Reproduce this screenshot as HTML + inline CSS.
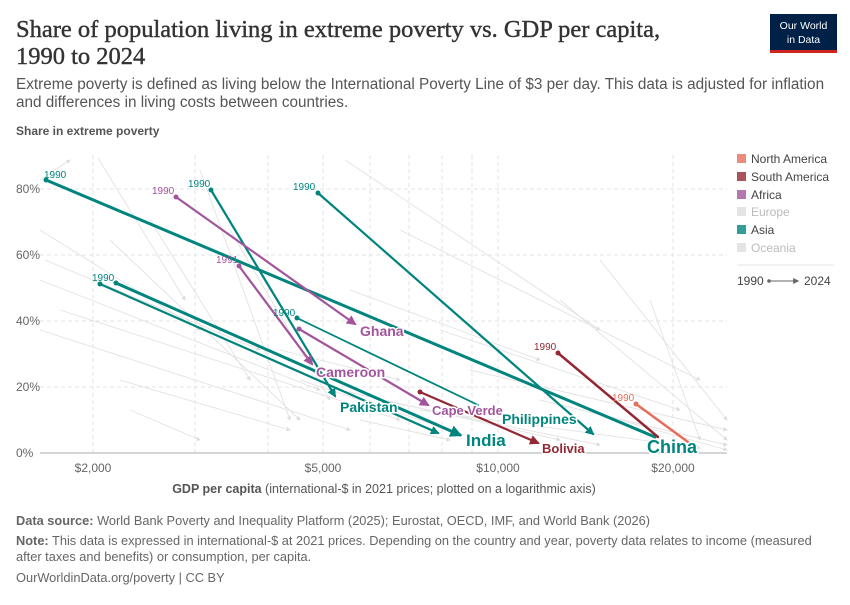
<!DOCTYPE html>
<html><head><meta charset="utf-8"><style>
body{margin:0;background:#fff;width:850px;height:600px;overflow:hidden;font-family:"Liberation Sans",sans-serif}
</style></head><body>
<svg width="850" height="600" xmlns="http://www.w3.org/2000/svg" font-family="Liberation Sans, sans-serif">
<defs>
<marker id="at" viewBox="0 0 10 10" refX="8" refY="5" markerWidth="4" markerHeight="4" orient="auto"><path d="M0,0L10,5L0,10z" fill="#00847e"/></marker>
<marker id="ap" viewBox="0 0 10 10" refX="8" refY="5" markerWidth="4.5" markerHeight="4.5" orient="auto"><path d="M0,0L10,5L0,10z" fill="#a2559c"/></marker>
<marker id="ar" viewBox="0 0 10 10" refX="8" refY="5" markerWidth="4.5" markerHeight="4.5" orient="auto"><path d="M0,0L10,5L0,10z" fill="#932834"/></marker>
<marker id="ag" viewBox="0 0 10 10" refX="8" refY="5" markerWidth="5" markerHeight="5" orient="auto"><path d="M0,0L10,5L0,10z" fill="#ddd"/></marker>
<marker id="ak" viewBox="0 0 10 10" refX="8" refY="5" markerWidth="6" markerHeight="6" orient="auto"><path d="M0,0L10,5L0,10z" fill="#666"/></marker>
</defs>
<text x="16" y="37" font-family="Liberation Serif, serif" font-size="24.5" fill="#333" stroke="#333" stroke-width="0.4">Share of population living in extreme poverty vs. GDP per capita,</text>
<text x="16" y="64" font-family="Liberation Serif, serif" font-size="24.5" fill="#333" stroke="#333" stroke-width="0.4">1990 to 2024</text>
<text x="16" y="89" font-size="15.3" fill="#555">Extreme poverty is defined as living below the International Poverty Line of $3 per day. This data is adjusted for inflation</text>
<text x="16" y="107" font-size="15.3" fill="#555">and differences in living costs between countries.</text>
<rect x="770" y="14" width="67" height="39" fill="#002147"/>
<rect x="770" y="50" width="67" height="3" fill="#ce261e"/>
<text x="803.5" y="29" font-size="10.5" fill="#fff" text-anchor="middle">Our World</text>
<text x="803.5" y="43" font-size="10.5" fill="#fff" text-anchor="middle">in Data</text>
<text x="16" y="135" font-size="12" font-weight="bold" fill="#555">Share in extreme poverty</text>
<g stroke="#e3e3e3" stroke-dasharray="4,3" stroke-width="1">
<line x1="40" y1="387" x2="727" y2="387"/><line x1="40" y1="321" x2="727" y2="321"/><line x1="40" y1="255" x2="727" y2="255"/><line x1="40" y1="189" x2="727" y2="189"/>
<line x1="93" y1="155" x2="93" y2="453"/><line x1="195" y1="155" x2="195" y2="453"/><line x1="268" y1="155" x2="268" y2="453"/><line x1="323" y1="155" x2="323" y2="453"/><line x1="370" y1="155" x2="370" y2="453"/><line x1="409" y1="155" x2="409" y2="453"/><line x1="442" y1="155" x2="442" y2="453"/><line x1="472" y1="155" x2="472" y2="453"/><line x1="498" y1="155" x2="498" y2="453"/><line x1="673" y1="155" x2="673" y2="453"/>
</g>
<line x1="40" y1="453" x2="727" y2="453" stroke="#aaa"/>
<g font-size="12" fill="#666">
<text x="16" y="457">0%</text><text x="16" y="391">20%</text><text x="16" y="325">40%</text><text x="16" y="259">60%</text><text x="16" y="193">80%</text>
<text x="93" y="472" text-anchor="middle">$2,000</text><text x="323" y="472" text-anchor="middle">$5,000</text><text x="498" y="472" text-anchor="middle">$10,000</text><text x="673" y="472" text-anchor="middle">$20,000</text>
</g>
<g stroke="#e2e2e2" stroke-width="0.9" fill="none" marker-end="url(#ag)">
<line x1="98" y1="158" x2="185" y2="300"/><line x1="40" y1="230" x2="200" y2="330"/><line x1="45" y1="260" x2="260" y2="350"/><line x1="40" y1="280" x2="320" y2="390"/><line x1="60" y1="310" x2="400" y2="420"/><line x1="40" y1="330" x2="350" y2="430"/><line x1="110" y1="240" x2="300" y2="420"/><line x1="150" y1="220" x2="250" y2="380"/><line x1="200" y1="170" x2="290" y2="420"/><line x1="230" y1="230" x2="330" y2="400"/><line x1="120" y1="380" x2="290" y2="430"/><line x1="300" y1="380" x2="480" y2="440"/><line x1="340" y1="390" x2="560" y2="440"/><line x1="380" y1="400" x2="600" y2="445"/><line x1="420" y1="410" x2="700" y2="448"/><line x1="345" y1="160" x2="600" y2="330"/><line x1="350" y1="290" x2="540" y2="360"/><line x1="600" y1="260" x2="727" y2="420"/><line x1="560" y1="300" x2="727" y2="440"/><line x1="470" y1="370" x2="727" y2="430"/><line x1="540" y1="400" x2="727" y2="445"/><line x1="620" y1="420" x2="727" y2="450"/><line x1="650" y1="300" x2="700" y2="440"/><line x1="40" y1="180" x2="70" y2="160"/><line x1="280" y1="350" x2="400" y2="380"/><line x1="130" y1="410" x2="200" y2="440"/><line x1="360" y1="420" x2="450" y2="440"/><line x1="400" y1="230" x2="700" y2="380"/><line x1="440" y1="330" x2="680" y2="410"/>
</g>
<g fill="none" stroke-linecap="round">
<line x1="46" y1="180" x2="655" y2="437" stroke="#00847e" stroke-width="3"/>
<line x1="211" y1="190" x2="335" y2="396" stroke="#00847e" stroke-width="2.2" marker-end="url(#at)"/>
<line x1="318" y1="193" x2="593" y2="434" stroke="#00847e" stroke-width="2.2" marker-end="url(#at)"/>
<line x1="100" y1="284" x2="438" y2="433" stroke="#00847e" stroke-width="2.2" marker-end="url(#at)"/>
<line x1="116" y1="283" x2="460" y2="435" stroke="#00847e" stroke-width="3" marker-end="url(#at)"/>
<line x1="297" y1="318" x2="478" y2="405" stroke="#00847e" stroke-width="1.8"/>
<line x1="176" y1="197" x2="355" y2="324" stroke="#a2559c" stroke-width="2.2" marker-end="url(#ap)"/>
<line x1="239" y1="266" x2="312" y2="364" stroke="#a2559c" stroke-width="2.2" marker-end="url(#ap)"/>
<line x1="299" y1="329" x2="428" y2="405" stroke="#a2559c" stroke-width="2.2" marker-end="url(#ap)"/>
<line x1="420" y1="392" x2="538" y2="443" stroke="#932834" stroke-width="2.2" marker-end="url(#ar)"/>
<line x1="558" y1="353" x2="658" y2="437" stroke="#932834" stroke-width="2.5"/>
<line x1="636" y1="404" x2="688" y2="442" stroke="#e56e5a" stroke-width="2.5"/>
</g>
<g>
<circle cx="46" cy="180" r="2.5" fill="#00847e"/><circle cx="211" cy="190" r="2.5" fill="#00847e"/><circle cx="318" cy="193" r="2.5" fill="#00847e"/><circle cx="100" cy="284" r="2.5" fill="#00847e"/><circle cx="116" cy="283" r="2.5" fill="#00847e"/><circle cx="297" cy="318" r="2.5" fill="#00847e"/>
<circle cx="176" cy="197" r="2.5" fill="#a2559c"/><circle cx="239" cy="266" r="2.5" fill="#a2559c"/><circle cx="299" cy="329" r="2.5" fill="#a2559c"/>
<circle cx="420" cy="392" r="2.5" fill="#932834"/><circle cx="558" cy="353" r="2.5" fill="#932834"/><circle cx="636" cy="404" r="2.5" fill="#e56e5a"/>
</g>
<g font-size="10">
<text x="44" y="178" fill="#00847e">1990</text><text x="188" y="187" fill="#00847e">1990</text><text x="293" y="190" fill="#00847e">1990</text><text x="92" y="281" fill="#00847e">1990</text><text x="273" y="316" fill="#00847e">1990</text>
<text x="152" y="194" fill="#a2559c">1990</text><text x="216" y="263" fill="#a2559c">1991</text>
<text x="534" y="350" fill="#932834">1990</text><text x="612" y="401" fill="#e56e5a">1990</text>
</g>
<g font-weight="bold" stroke="#fff" stroke-width="3" paint-order="stroke">
<text x="360" y="336" font-size="14" fill="#a2559c">Ghana</text>
<text x="316" y="377" font-size="14" fill="#a2559c">Cameroon</text>
<text x="340" y="412" font-size="14" fill="#00847e">Pakistan</text>
<text x="432" y="415" font-size="13" fill="#a2559c">Cape Verde</text>
<text x="502" y="424" font-size="14" fill="#00847e">Philippines</text>
<text x="466" y="446" font-size="17" fill="#00847e">India</text>
<text x="542" y="453" font-size="13" fill="#932834">Bolivia</text>
<text x="647" y="453" font-size="18" fill="#00847e">China</text>
</g>
<g font-size="12">
<rect x="737" y="154" width="9" height="9" fill="#e56e5a" opacity="0.8"/><text x="751" y="163" fill="#444">North America</text>
<rect x="737" y="172" width="9" height="9" fill="#932834" opacity="0.8"/><text x="751" y="181" fill="#444">South America</text>
<rect x="737" y="190" width="9" height="9" fill="#a2559c" opacity="0.8"/><text x="751" y="199" fill="#444">Africa</text>
<rect x="737" y="207" width="9" height="9" fill="#e4e4e4"/><text x="751" y="216" fill="#bbb">Europe</text>
<rect x="737" y="225" width="9" height="9" fill="#00847e" opacity="0.8"/><text x="751" y="234" fill="#444">Asia</text>
<rect x="737" y="243" width="9" height="9" fill="#e4e4e4"/><text x="751" y="252" fill="#bbb">Oceania</text>
<line x1="737" y1="265" x2="834" y2="265" stroke="#e4e4e4"/>
<text x="737" y="285" fill="#444">1990</text>
<circle cx="769" cy="281" r="1.8" fill="#666"/><line x1="769" y1="281" x2="798" y2="281" stroke="#666" stroke-width="1" marker-end="url(#ak)"/>
<text x="804" y="285" fill="#444">2024</text>
</g>
<text x="384" y="493" font-size="12.5" fill="#555" text-anchor="middle"><tspan font-weight="bold">GDP per capita</tspan> (international-$ in 2021 prices; plotted on a logarithmic axis)</text>
<g font-size="12.8" fill="#666">
<text x="16" y="525"><tspan font-weight="bold">Data source:</tspan> World Bank Poverty and Inequality Platform (2025); Eurostat, OECD, IMF, and World Bank (2026)</text>
<text x="16" y="545"><tspan font-weight="bold">Note:</tspan> This data is expressed in international-$ at 2021 prices. Depending on the country and year, poverty data relates to income (measured</text>
<text x="16" y="561">after taxes and benefits) or consumption, per capita.</text>
<text x="16" y="582">OurWorldinData.org/poverty | CC BY</text>
</g>
</svg>
</body></html>
